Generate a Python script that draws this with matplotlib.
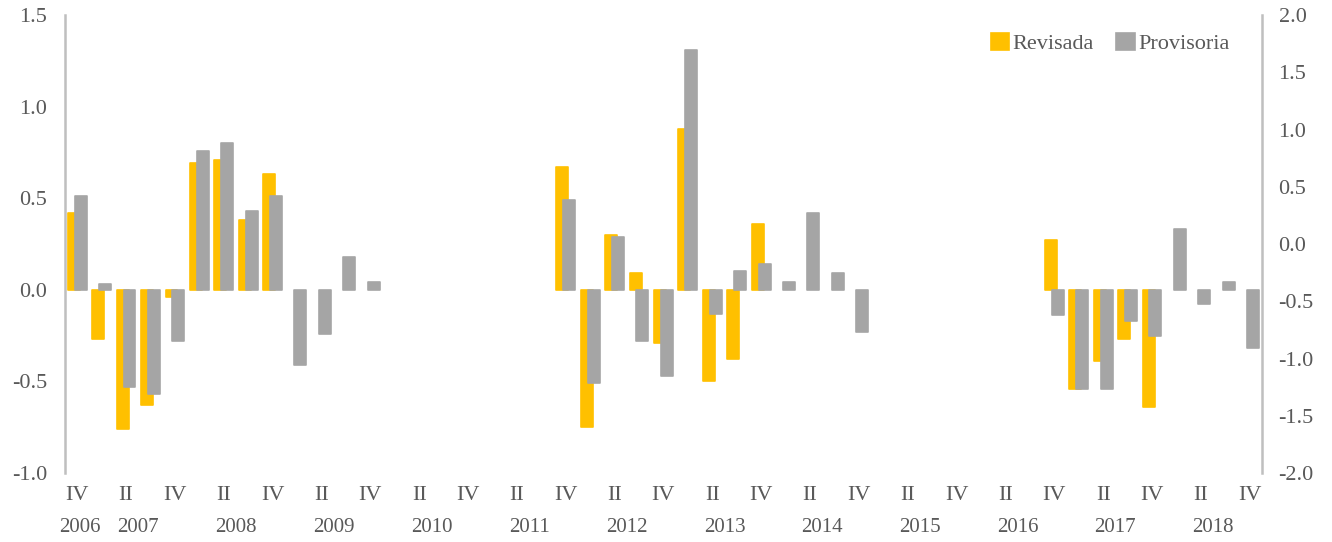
import numpy as np
import matplotlib
matplotlib.use("Agg")
import matplotlib.pyplot as plt

plt.rcParams['font.family'] = ['Liberation Serif', 'DejaVu Serif']
plt.rcParams['axes.unicode_minus'] = False

# trimestres: 2006 IV ... 2018 IV
quarters = ["IV"] + ["I", "II", "III", "IV"] * 12
years = list(range(2006, 2019))
nan = np.nan

revisada = [0.42,
            -0.27, -0.76, -0.63, -0.04,
            0.69, 0.71, 0.38, 0.63,
            nan, nan, nan, nan,
            nan, nan, nan, nan,
            nan, nan, nan, 0.67,
            -0.75, 0.30, 0.09, -0.29,
            0.88, -0.50, -0.38, 0.36,
            nan, nan, nan, nan,
            nan, nan, nan, nan,
            nan, nan, nan, 0.27,
            -0.54, -0.39, -0.27, -0.64,
            nan, nan, nan, nan]

provisoria = [0.51,
              0.03, -0.53, -0.57, -0.28,
              0.76, 0.80, 0.43, 0.51,
              -0.41, -0.24, 0.18, 0.04,
              nan, nan, nan, nan,
              nan, nan, nan, 0.49,
              -0.51, 0.29, -0.28, -0.47,
              1.31, -0.13, 0.10, 0.14,
              0.04, 0.42, 0.09, -0.23,
              nan, nan, nan, nan,
              nan, nan, nan, -0.14,
              -0.54, -0.54, -0.17, -0.25,
              0.33, -0.08, 0.04, -0.32]

yellow = "#FFC000"
grey = "#A5A5A5"
txt = "#595959"
fs = 15

fig = plt.figure(figsize=(13.32, 5.42), dpi=100)
ax = fig.add_axes([0.0488, 0.1273, 0.8986, 0.845])
x = np.arange(len(quarters))

ax.bar(x - 0.14, revisada, width=0.49, color=yellow, edgecolor=yellow,
       linewidth=1.2, joinstyle="round", label="Revisada", zorder=2)
ax.bar(x + 0.14, provisoria, width=0.49, color=grey, edgecolor=grey,
       linewidth=1.2, joinstyle="round", label="Provisoria", zorder=3)

ax.set_xlim(-0.5, len(quarters) - 0.5)
ax.set_ylim(-1.0, 1.5)
ax.set_yticks(np.arange(-1.0, 1.51, 0.5))
ax.set_yticklabels([f"{v:.1f}" for v in np.arange(-1.0, 1.51, 0.5)])

# etiquetas II y IV
ticks = [i for i, q in enumerate(quarters) if q in ("II", "IV")]
ax.set_xticks(ticks)
ax.set_xticklabels([quarters[i] for i in ticks])
ax.tick_params(axis="x", length=0, pad=9, labelsize=fs + 1, labelcolor=txt)
ax.tick_params(axis="y", length=0, pad=13, labelsize=fs + 1, labelcolor=txt)

# años
for yr in years:
    if yr == 2006:
        xc = 0.1
    else:
        xc = 1 + 4 * (yr - 2007) + 1.5
    ax.text(xc, -0.12, str(yr), transform=ax.get_xaxis_transform(),
            ha="center", va="center", fontsize=fs, color=txt)

for s in ["top", "right", "bottom"]:
    ax.spines[s].set_visible(False)
ax.spines["left"].set_color("#BFBFBF")
ax.spines["left"].set_linewidth(1.8)

ax2 = ax.twinx()
ax2.set_ylim(-2.0, 2.0)
ax2.set_yticks(np.arange(-2.0, 2.01, 0.5))
ax2.set_yticklabels([f"{v:.1f}" for v in np.arange(-2.0, 2.01, 0.5)])
ax2.tick_params(axis="y", length=0, pad=12, labelsize=fs + 1, labelcolor=txt)
for s in ["top", "left", "bottom"]:
    ax2.spines[s].set_visible(False)
ax2.spines["right"].set_color("#BFBFBF")
ax2.spines["right"].set_linewidth(1.8)

h, l = ax.get_legend_handles_labels()
leg = ax.legend(h, l, loc="upper right", bbox_to_anchor=(0.99, 1.005), ncol=2,
                frameon=False, fontsize=fs + 1, handlelength=0.85, handleheight=0.85,
                handletextpad=0.15, columnspacing=1.0)
for t in leg.get_texts():
    t.set_color(txt)

plt.savefig("out.png", dpi=100)
